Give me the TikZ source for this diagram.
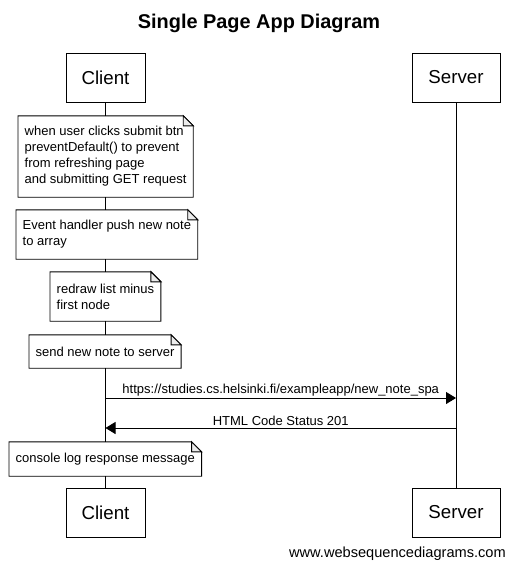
\documentclass[tikz,border=0pt]{standalone}
\usepackage{fontspec}
\setmainfont{Liberation Sans}
\usetikzlibrary{arrows.meta}
\tikzset{
  actor/.style={draw, line width=0.9pt, fill=white, inner sep=0pt, font=\fontsize{18.7}{22}\selectfont},
  notetext/.style={fill=white, anchor=west, inner xsep=6.5pt, inner ysep=0pt, align=left, font=\fontsize{13}{16}\selectfont},
  lifeline/.style={line width=0.9pt},
  msg/.style={line width=0.9pt, -{Triangle[length=10pt,width=12pt]}},
  lbl/.style={font=\fontsize{13}{16}\selectfont, inner sep=1.5pt},
  outline/.style={line width=0.9pt},
}
\newcommand{\notefold}[1]{%
  \draw[outline] (#1.south west) -- (#1.north west) -- ([xshift=-10pt]#1.north east) -- ([yshift=-10pt]#1.north east) -- (#1.south east) -- cycle;
  \draw[outline, fill=gray!15] ([xshift=-10pt]#1.north east) -- ([xshift=-10pt,yshift=-10pt]#1.north east) -- ([yshift=-10pt]#1.north east) -- cycle;
}
\begin{document}
\begin{tikzpicture}[x=1pt,y=-1pt]
\useasboundingbox[fill=white] (0,0) rectangle (515,571);

\node[font=\bfseries\fontsize{19.9}{24}\selectfont] (title) at (259,23) {Single Page App Diagram};

% actors
\node[actor, minimum width=79pt, minimum height=49pt] (c1) at (105.5,77.5) {Client};
\node[actor, minimum width=88pt, minimum height=49pt] (s1) at (456,77.5) {Server};
\node[actor, minimum width=79pt, minimum height=49pt] (c2) at (105.5,512.5) {Client};
\node[actor, minimum width=88pt, minimum height=49pt] (s2) at (456,512.5) {Server};

% lifelines
\draw[lifeline] (c1.south) -- (c2.north);
\draw[lifeline] (s1.south) -- (s2.north);

% notes
\node[notetext, minimum height=81pt] (n1) at (18,156.5)
  {when user clicks submit btn\\preventDefault() to prevent\\from refreshing page\\and submitting GET request};
\notefold{n1}
\node[notetext, minimum height=49pt] (n2) at (16,234.5)
  {Event handler push new note\\to array};
\notefold{n2}
\node[notetext, minimum height=49pt] (n3) at (50,296.5)
  {redraw list minus\\first node};
\notefold{n3}
\node[notetext, minimum height=33pt] (n4) at (29,351.5)
  {send new note to server};
\notefold{n4}

% messages
\coordinate (a1) at (105.5,398);
\coordinate (b1) at (456,398);
\draw[msg] (a1) -- node[lbl, above] (m1) {https://studies.cs.helsinki.fi/exampleapp/new\_note\_spa} (b1);
\coordinate (a2) at (456,428);
\coordinate (b2) at (105.5,428);
\draw[msg] (a2) -- node[lbl, above] (m2) {HTML Code Status 201} (b2);

\node[notetext, minimum height=34pt] (n5) at (9,459)
  {console log response message};
\notefold{n5}

\node[anchor=east, inner sep=0pt, font=\fontsize{14.6}{18}\selectfont] (wm) at (506,554) {www.websequencediagrams.com};
\end{tikzpicture}
\end{document}
